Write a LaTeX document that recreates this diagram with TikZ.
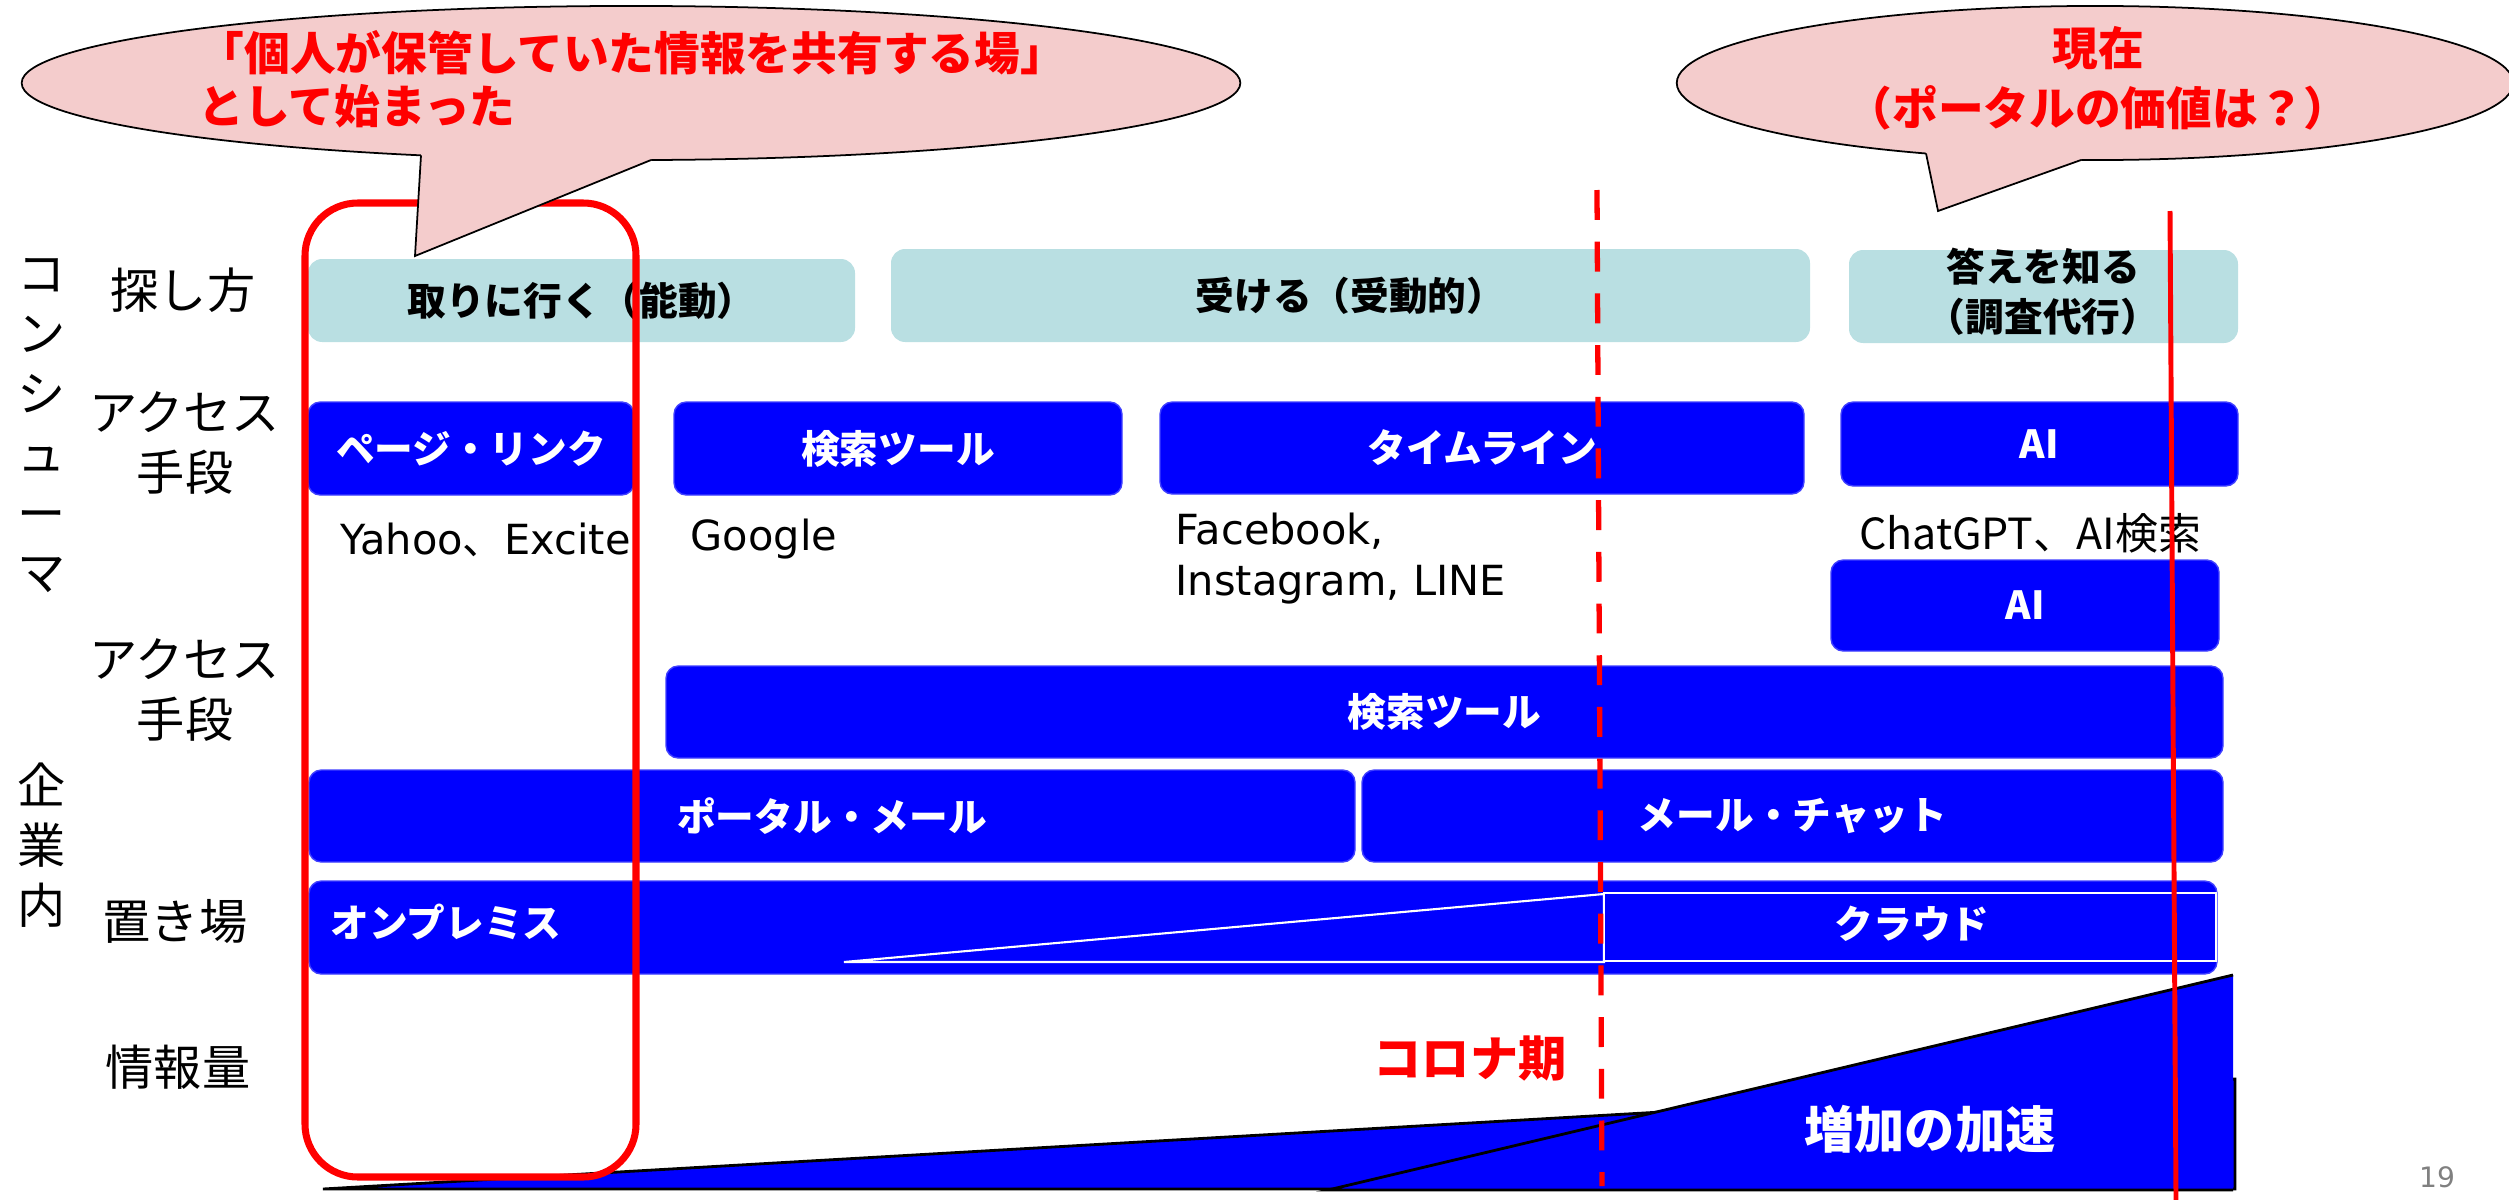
\documentclass[tikz,border=0pt]{standalone}
\usepackage{fontspec}
\newfontfamily\jp{Noto Sans CJK JP}
\newfontfamily\vd{DejaVu Sans}
\usetikzlibrary{fit}
\definecolor{tealbg}{HTML}{B9DFE2}
\definecolor{pinkbg}{HTML}{F4CCCC}
\definecolor{pureblue}{HTML}{0000FF}
\definecolor{pred}{HTML}{FF0000}
\begin{document}
\begin{tikzpicture}[x=0.01cm,y=-0.01cm,
  tealbox/.style={fill=tealbg, draw=none, rounded corners=4pt, inner sep=0pt},
  tealtext/.style={inner sep=0pt, font=\jp\bfseries\fontsize{11}{14.2}\selectfont, align=center},
  bluebox/.style={fill=pureblue, draw=pureblue!75!white, line width=0.4pt, rounded corners=3.5pt, inner sep=0pt},
  bluetext/.style={inner sep=0pt, text=white, font=\jp\bfseries\fontsize{11}{13}\selectfont},
  lbl/.style={font=\jp\fontsize{13.7}{17}\selectfont, align=center, inner sep=0pt},
  latin/.style={font=\vd\fontsize{11.8}{14.5}\selectfont, align=left, inner sep=0pt},
  callout/.style={fill=pinkbg, draw=black, line width=0.5pt},
  ctext/.style={text=pred, font=\jp\bfseries\fontsize{13}{15}\selectfont, inner sep=0pt},
  marker/.style={pred, line width=1.5pt},
]
\useasboundingbox (0,0) rectangle (2509,1200);

% left labels
\node[lbl] (vcons) at (42,426) {コ\\ン\\シ\\ュ\\ー\\マ};
\node[lbl] (vent) at (42,845) {企\\業\\内};
\node[lbl] (lsearch) at (183,290) {探し方};
\node[lbl] (lacc1) at (185,443) {アクセス\\手段};
\node[lbl] (lacc2) at (185,690) {アクセス\\手段};
\node[lbl] (lstore) at (175,921) {置き場};
\node[lbl] (lamount) at (178,1067) {情報量};

% search style row
\node[tealbox, fit={(308,259) (855,342)}] (t1) {};
\node[tealtext] (t1t) at (t1) {取りに行く（能動）};
\node[tealbox, fit={(891,249) (1810,342)}] (t2) {};
\node[tealtext] (t2t) at (t2) {受ける（受動的）};
\node[tealbox, fit={(1849,250) (2238,343)}] (t3) {};
\node[tealtext] (t3t) at (2043,292) {答えを知る\\（調査代行）};

% consumer access row
\node[bluebox, fit={(308,402) (634,495)}] (b1) {};
\node[bluetext] (b1t) at (b1) {ページ・リンク};
\node[bluebox, fit={(674,402) (1122,495)}] (b2) {};
\node[bluetext] (b2t) at (b2) {検索ツール};
\node[bluebox, fit={(1160,402) (1804,494)}] (b3) {};
\node[bluetext] (b3t) at (b3) {タイムライン};
\node[bluebox, fit={(1841,402) (2238,486)}] (b4) {};
\node[bluetext] (b4t) at (b4) {AI};

\node[latin, anchor=west] (yahoo) at (340,540) {Yahoo{\jp 、}Excite};
\node[latin, anchor=west] (google) at (690,539) {Google};
\node[latin, anchor=west] (fb) at (1175,559) {Facebook,\\Instagram, LINE};
\node[font=\jp\fontsize{12.2}{14}\selectfont, inner sep=0pt] (chat) at (2030,533) {ChatGPT、AI検索};

% enterprise access rows
\node[bluebox, fit={(1831,560) (2219,651)}] (b5) {};
\node[bluetext] (b5t) at (b5) {AI};
\node[bluebox, fit={(666,666) (2223,758)}] (b6) {};
\node[bluetext] (b6t) at (b6) {検索ツール};
\node[bluebox, fit={(309,770) (1355,862)}] (b7) {};
\node[bluetext] (b7t) at (b7) {ポータル・メール};
\node[bluebox, fit={(1362,770) (2223,862)}] (b8) {};
\node[bluetext] (b8t) at (b8) {メール・チャット};

% storage row
\node[bluebox, fit={(309,881) (2217,974)}] (b9) {};
\node[bluetext, anchor=west] (onp) at (330,922) {オンプレミス};
\draw[white, line width=0.6pt, fill=pureblue] (844,962) -- (1604,894) -- (1604,962) -- cycle;
\node[draw=white, line width=0.6pt, fill=pureblue, inner sep=0pt, fit={(1604,893) (2216,961)}] (cloud) {};
\node[bluetext] (cloudt) at (1912,924) {クラウド};

% information amount
\fill[pureblue] (323,1189) -- (2235,1079) -- (2235,1189) -- cycle;
\draw[black, line width=0.8pt] (323,1189) -- (2235,1079) -- (2235,1189) -- cycle;
\fill[pureblue] (1328,1190) -- (2233,975) -- (2233,1190) -- cycle;
\draw[black, line width=0.8pt] (2233,975) -- (1328,1190) -- (2233,1190);
\draw[black, line width=0.8pt] (2235,1079) -- (2235,1189);
\node[text=white, font=\jp\bfseries\fontsize{14.3}{16}\selectfont, inner sep=0pt] (accel) at (1930,1129) {増加の加速};
\node[text=pred, font=\jp\bfseries\fontsize{13.7}{16}\selectfont, inner sep=0pt] (corona) at (1470,1059) {コロナ期};
\node[text=gray, font=\vd\fontsize{8}{10}\selectfont, inner sep=0pt] (pg) at (2437,1177) {19};

% red focus frame
\node[draw=pred, line width=2pt, rounded corners=15pt, inner sep=0pt, fit={(305,203) (636,1177)}] (focus) {};

% callouts
\draw[callout] (631,83) ellipse [x radius=6.09cm, y radius=0.77cm];
\fill[pinkbg] (421,140) -- (421,156) -- (415,256) -- (651,161) -- (651,140) -- cycle;
\draw[black, line width=0.5pt] (421,155.3) -- (415,256) -- (651,160);
\node[ctext, anchor=west, align=left] (c1) at (198,79) {「個人が保管していた情報を共有する場」\\として始まった};

\draw[callout] (2095,83) ellipse [x radius=4.18cm, y radius=0.77cm];
\fill[pinkbg] (1926,140) -- (1926,154) -- (1938,211) -- (2081,161) -- (2081,140) -- cycle;
\draw[black, line width=0.5pt] (1926,153.4) -- (1938,211) -- (2081,160);
\node[ctext, align=center, font=\jp\bfseries\fontsize{13}{17}\selectfont] (c2) at (2098,78) {現在\\（ポータルの価値は？）};

% time markers
\coordinate (dtop) at (1597,190);
\coordinate (dbot) at (1602,1186);
\draw[marker, dash pattern=on 8.5pt off 6.2pt] (dtop) -- (dbot);
\coordinate (stop) at (2170,211);
\coordinate (sbot) at (2176,1200);
\draw[pred, line width=1.4pt] (stop) -- (sbot);
\end{tikzpicture}
\end{document}
